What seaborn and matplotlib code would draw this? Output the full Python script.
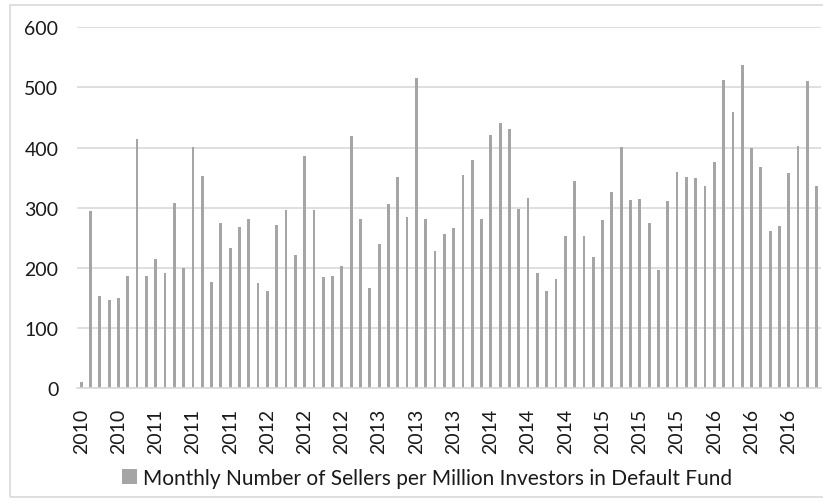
import seaborn as sns
import pandas as pd
import matplotlib.pyplot as plt
from matplotlib.patches import Rectangle, Patch

# Monthly values, May 2010 .. Dec 2016
months = list(range(80))
sellers = [10, 294, 153, 147, 150, 187, 414, 186, 215, 192,
           308, 200, 401, 353, 176, 275, 233, 268, 282, 175,
           161, 271, 296, 222, 386, 297, 185, 187, 204, 420,
           281, 166, 240, 306, 351, 285, 515, 282, 228, 256,
           267, 354, 379, 282, 421, 441, 431, 298, 316, 192,
           162, 182, 253, 345, 253, 218, 280, 326, 401, 313,
           315, 275, 196, 312, 360, 352, 350, 337, 376, 513,
           459, 538, 399, 368, 262, 269, 358, 403, 510, 337]
tick_labels = ["2010", "2010", "2011", "2011", "2011", "2012", "2012", "2012",
               "2013", "2013", "2013", "2014", "2014", "2014", "2015", "2015",
               "2015", "2016", "2016", "2016"]
legend_label = "Monthly Number of Sellers per Million Investors in Default Fund"

df = pd.DataFrame({"month": months, "sellers": sellers})

sns.set_style("white")
plt.rcParams["font.family"] = ["Lato", "DejaVu Sans"]

fig = plt.figure(figsize=(8.23, 5.02), dpi=100)
ax = fig.add_axes([0.093, 0.2245, 0.905, 0.7191])

bar_color = "#a5a5a5"
text_color = "#1a1a1a"
sns.barplot(data=df, x="month", y="sellers", color=bar_color, width=0.3,
            saturation=1, linewidth=0, ax=ax)

ax.set_ylim(0, 600)
ax.set_xlim(-0.5, len(months) - 0.5)
ax.set_yticks(range(0, 601, 100))
ax.yaxis.grid(True, color="#d9d9d9", linewidth=1.2)
ax.set_axisbelow(True)
ax.set_xticks(range(0, len(months), 4))
ax.set_xticklabels(tick_labels, rotation=90)
ax.tick_params(axis="both", length=0, labelsize=14, colors=text_color)
ax.tick_params(axis="x", pad=14)
ax.tick_params(axis="y", pad=13)
ax.set_xlabel("")
ax.set_ylabel("")
for side in ["top", "right", "left"]:
    ax.spines[side].set_visible(False)
ax.spines["bottom"].set_color("#d9d9d9")
ax.spines["bottom"].set_linewidth(1.2)

handle = Patch(facecolor=bar_color, edgecolor="none")
fig.legend([handle], [legend_label], loc="center",
           bbox_to_anchor=(427 / 823, 1 - 479 / 502), frameon=False,
           fontsize=15, handlelength=0.7, handleheight=0.7,
           handletextpad=0.3, labelcolor=text_color)

# light frame round the chart area
fig.patches.append(Rectangle((10 / 823, 1 - 498 / 502), 1.0, (498 - 6) / 502,
                             transform=fig.transFigure, fill=False,
                             edgecolor="#d9d9d9", linewidth=1.2))

fig.savefig("out.png", dpi=100)
